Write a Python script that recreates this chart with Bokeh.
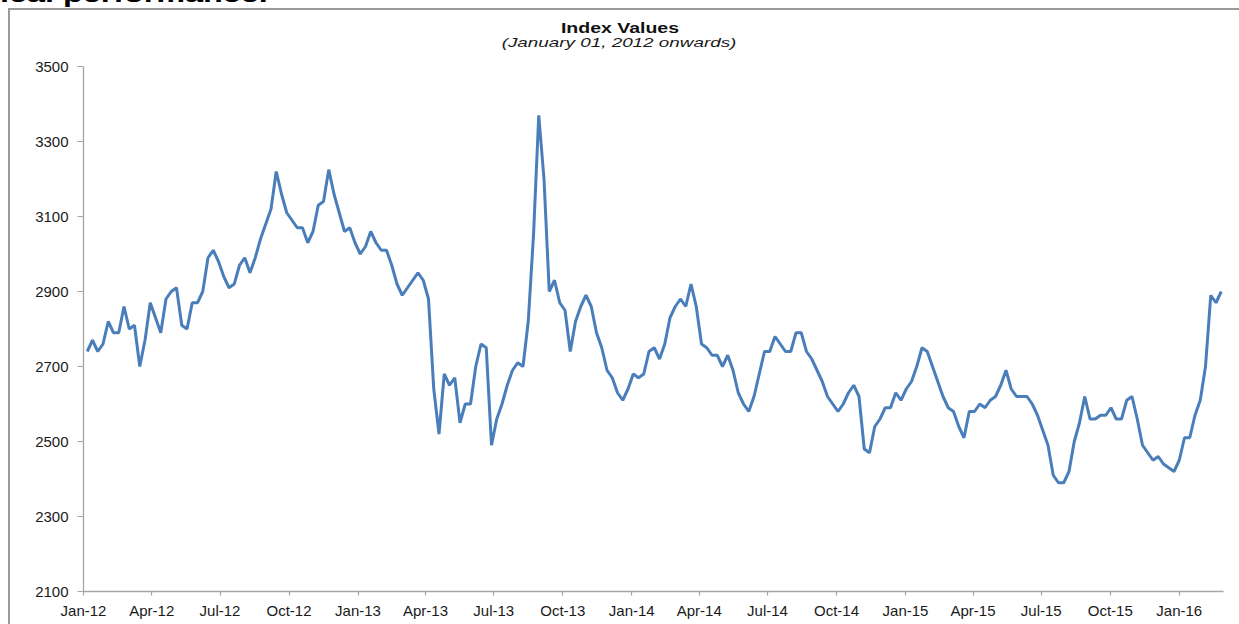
import pandas as pd
from bokeh.plotting import figure
from bokeh.layouts import column
from bokeh.models import (Range1d, FixedTicker, DatetimeTickFormatter, Div,
                          ColumnDataSource)
from bokeh.embed import file_html
from bokeh.resources import INLINE

title_text = "Index Values"
subtitle_text = "(January 01, 2012 onwards)"
header_fragment = "ical performance."

# weekly readings (Fridays) from 2012-01-06
start_date = "2012-01-06"
index_values = [
    2740, 2770, 2740, 2760, 2820, 2790, 2790, 2860, 2800, 2810,
    2700, 2770, 2870, 2830, 2790, 2880, 2900, 2910, 2810, 2800,
    2870, 2870, 2900, 2990, 3010, 2980, 2940, 2910, 2920, 2970,
    2990, 2950, 2990, 3040, 3080, 3120, 3220, 3160, 3110, 3090,
    3070, 3070, 3030, 3060, 3130, 3140, 3225, 3160, 3110, 3060,
    3070, 3030, 3000, 3020, 3060, 3030, 3010, 3010, 2970, 2920,
    2890, 2910, 2930, 2950, 2930, 2880, 2640, 2520, 2680, 2650,
    2670, 2550, 2600, 2600, 2700, 2760, 2750, 2490, 2560, 2600,
    2650, 2690, 2710, 2700, 2820, 3050, 3370, 3200, 2900, 2930,
    2870, 2850, 2740, 2820, 2860, 2890, 2860, 2790, 2750, 2690,
    2670, 2630, 2610, 2640, 2680, 2670, 2680, 2740, 2750, 2720,
    2760, 2830, 2860, 2880, 2860, 2920, 2860, 2760, 2750, 2730,
    2730, 2700, 2730, 2690, 2630, 2600, 2580, 2620, 2680, 2740,
    2740, 2780, 2760, 2740, 2740, 2790, 2790, 2740, 2720, 2690,
    2660, 2620, 2600, 2580, 2600, 2630, 2650, 2620, 2480, 2470,
    2540, 2560, 2590, 2590, 2630, 2610, 2640, 2660, 2700, 2750,
    2740, 2700, 2660, 2620, 2590, 2580, 2540, 2510, 2580, 2580,
    2600, 2590, 2610, 2620, 2650, 2690, 2640, 2620, 2620, 2620,
    2600, 2570, 2530, 2490, 2410, 2390, 2390, 2420, 2500, 2550,
    2620, 2560, 2560, 2570, 2570, 2590, 2560, 2560, 2610, 2620,
    2560, 2490, 2470, 2450, 2460, 2440, 2430, 2420, 2450, 2510,
    2510, 2570, 2610, 2700, 2890, 2870, 2900,
]
dates = pd.date_range(start_date, periods=len(index_values), freq="7D")

tick_dates = pd.date_range("2012-01-01", "2016-01-01", freq="QS")
y_ticks = list(range(2100, 3501, 200))

source = ColumnDataSource(data=dict(date=dates, value=index_values))

FONT = "Liberation Sans"
GRAY = "#a6a6a6"
BORDER = "#9a9a9a"

# ---- header: cropped page text, chart box top edge, chart titles ----
header_html = f"""
<div style="position:relative;width:1239px;height:50px;overflow:hidden;font-family:'{FONT}';">
  <div style="position:absolute;left:0px;top:-16px;font-size:22px;line-height:22px;font-weight:bold;color:#000;white-space:nowrap;transform:scaleX(1.47);transform-origin:0 0;">{header_fragment}</div>
  <div style="position:absolute;left:8px;top:8px;width:1300px;height:100px;border-top:2px solid {BORDER};border-left:2px solid {BORDER};"></div>
  <div style="position:absolute;left:320px;top:19.5px;width:600px;text-align:center;font-size:15px;line-height:15px;font-weight:bold;color:#111;white-space:nowrap;transform:scaleX(1.3);transform-origin:300px 0;">{title_text}</div>
  <div style="position:absolute;left:319px;top:35.5px;width:600px;text-align:center;font-size:13px;line-height:13px;font-style:italic;color:#1a1a1a;white-space:nowrap;transform:scaleX(1.45);transform-origin:300px 0;">{subtitle_text}</div>
</div>
"""
header = Div(text=header_html, width=1239, height=50, margin=(0, 0, 0, 0))

p = figure(
    width=1229, height=574,
    x_axis_type="datetime",
    x_range=Range1d(pd.Timestamp("2012-01-01"), pd.Timestamp("2016-02-29")),
    y_range=Range1d(2100, 3500),
    output_backend="svg", toolbar_location=None, title=None,
    min_border_left=73, min_border_right=16, min_border_top=16, min_border_bottom=33,
    margin=(0, 0, 0, 8),
)
p.styles = {"border-left": f"2px solid {BORDER}"}

p.line("date", "value", source=source, line_color="#4A7EBB", line_width=3)

p.xgrid.visible = False
p.ygrid.visible = False
p.outline_line_color = None
p.background_fill_color = "white"
p.border_fill_color = "white"

fmt = "%b-%y"
p.xaxis.ticker = FixedTicker(ticks=[t.timestamp() * 1000 for t in tick_dates])
p.xaxis.formatter = DatetimeTickFormatter(
    milliseconds=fmt, seconds=fmt, minsec=fmt, minutes=fmt, hourmin=fmt,
    hours=fmt, days=fmt, months=fmt, years=fmt, context=None,
)
p.yaxis.ticker = FixedTicker(ticks=y_ticks)

for ax in (p.xaxis[0], p.yaxis[0]):
    ax.axis_line_color = GRAY
    ax.axis_line_width = 1.3
    ax.major_tick_line_color = GRAY
    ax.major_tick_line_width = 1.2
    ax.minor_tick_line_color = None
    ax.major_tick_in = 0
    ax.major_label_text_font = FONT
    ax.major_label_text_font_size = "15px"
    ax.major_label_text_color = "#1a1a1a"

p.xaxis.major_tick_out = 4
p.xaxis.major_label_standoff = 6
p.yaxis.major_tick_out = 6
p.yaxis.major_label_standoff = 9

layout = column(header, p, spacing=0, margin=(0, 0, 0, 0))

open("out.html", "w").write(file_html(layout, INLINE))
